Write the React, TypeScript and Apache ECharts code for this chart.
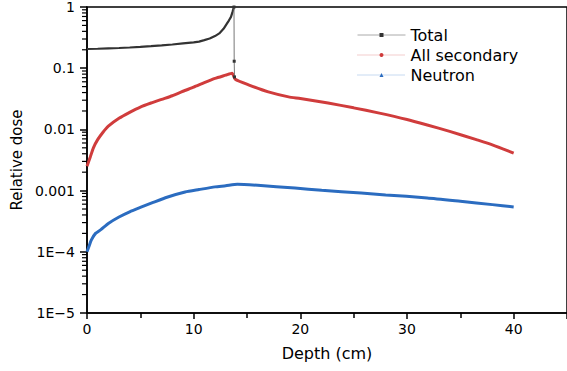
import React, { useEffect, useRef } from "react";
import * as echarts from "echarts";

// Total dose (before the Bragg peak)
const totalDepth = [0, 1, 2, 3, 4, 5, 6, 7, 8, 9, 10, 10.5, 11, 11.5, 12, 12.4, 12.8, 13.1, 13.3, 13.5, 13.65, 13.78];
const totalDose = [0.206, 0.208, 0.211, 0.214, 0.218, 0.223, 0.229, 0.236, 0.244, 0.254, 0.264, 0.272, 0.287, 0.305, 0.335, 0.37, 0.44, 0.53, 0.6, 0.69, 0.84, 1.0];
// Total dose, fall-off after the peak
const peakDepth = [13.78, 13.8, 13.83];
const peakDose = [1.0, 0.13, 0.072];
// All secondary
const secDepth = [0, 0.3, 0.6, 1, 1.5, 2, 3, 4, 5, 6, 7, 8, 9, 10, 11, 12, 13, 13.6, 13.9, 15.2, 17, 18.9, 20, 22.6, 25, 27.3, 30, 31.9, 34, 36.5, 38, 40];
const secDose = [0.0025, 0.0035, 0.005, 0.0068, 0.009, 0.0113, 0.0152, 0.019, 0.0232, 0.027, 0.031, 0.0355, 0.042, 0.049, 0.058, 0.068, 0.077, 0.083, 0.066, 0.053, 0.041, 0.034, 0.032, 0.027, 0.0225, 0.0186, 0.0145, 0.0118, 0.0093, 0.0068, 0.0056, 0.0041];
// Neutron
const neuDepth = [0, 0.2, 0.4, 0.8, 1.3, 2, 3, 4, 5, 6.2, 7.5, 9.2, 10.5, 12, 13, 14.1, 16, 19.5, 22, 25.7, 28, 31.9, 35, 38, 40];
const neuDose = [0.0001, 0.000125, 0.000155, 0.0002, 0.00023, 0.00029, 0.00037, 0.00045, 0.00053, 0.00064, 0.00078, 0.00095, 0.00104, 0.00115, 0.0012, 0.00127, 0.00122, 0.0011, 0.00101, 0.00091, 0.00085, 0.00076, 0.00067, 0.00059, 0.00054];

const yTickLabels = ["1E\u22125", "1E\u22124", "0.001", "0.01", "0.1", "1"];
const seriesNames = ["Total", "All secondary", "Neutron"];

const FONT = "DejaVu Sans";

// minor log ticks: 2..9 x 10^e
const minorYTicks: number[] = [];
for (let e = -5; e < 0; e++) {
  for (let m = 2; m <= 9; m++) minorYTicks.push(m * Math.pow(10, e));
}

const pairs = (xs: number[], ys: number[]) => xs.map((x, i) => [x, ys[i]]);

export default function App() {
  const ref = useRef<HTMLDivElement>(null);
  useEffect(() => {
    if (!ref.current) return;
    const chart = echarts.init(ref.current, undefined, { renderer: "svg" });
    chart.setOption({
      animation: false,
      backgroundColor: "#fff",
      grid: {
        left: 87,
        top: 6,
        right: -4,
        bottom: 58,
        show: true,
        borderColor: "#000",
        borderWidth: 1.5,
        backgroundColor: "transparent",
      },
      legend: {
        orient: "vertical",
        left: 352,
        top: 22,
        itemWidth: 48,
        itemHeight: 5,
        itemGap: 4,
        textStyle: { fontFamily: FONT, fontSize: 16, color: "#000" },
        data: [
          { name: seriesNames[0], lineStyle: { color: "#aaaaaa", width: 1, type: "solid" }, itemStyle: { color: "#333" } },
          { name: seriesNames[1], lineStyle: { color: "#e79a9a", width: 1, type: "dotted" }, itemStyle: { color: "#d03c3c" } },
          { name: seriesNames[2], lineStyle: { color: "#8fb4e3", width: 1, type: "dotted" }, itemStyle: { color: "#2b6cc0" } },
        ],
      },
      xAxis: {
        type: "value",
        min: 0,
        max: 45,
        interval: 10,
        name: "Depth (cm)",
        nameLocation: "middle",
        nameGap: 32,
        nameTextStyle: { fontFamily: FONT, fontSize: 16, color: "#000" },
        axisLine: { show: true, onZero: false, lineStyle: { color: "#000", width: 1.5 } },
        axisTick: { show: true, length: 6, lineStyle: { color: "#000", width: 1.5 } },
        minorTick: { show: true, splitNumber: 2, length: 5, lineStyle: { color: "#000", width: 1.5 } },
        splitLine: { show: false },
        minorSplitLine: { show: false },
        axisLabel: {
          margin: 9,
          fontFamily: FONT,
          fontSize: 14,
          color: "#000",
          showMaxLabel: false,
        },
      },
      yAxis: {
        type: "log",
        logBase: 10,
        min: 1e-5,
        max: 1,
        name: "Relative dose",
        nameLocation: "middle",
        nameGap: 60,
        nameTextStyle: { fontFamily: FONT, fontSize: 15, color: "#000" },
        axisLine: { show: true, onZero: false, lineStyle: { color: "#000", width: 1.5 } },
        axisTick: { show: true, length: 7, lineStyle: { color: "#000", width: 1.5 } },
        splitLine: { show: false },
        axisLabel: {
          margin: 12,
          fontFamily: FONT,
          fontSize: 14,
          color: "#000",
          formatter: (v: number) => {
            const idx = Math.round(Math.log10(v)) + 5;
            return yTickLabels[idx] ?? "";
          },
        },
      },
      series: [
        {
          name: seriesNames[0],
          type: "line",
          data: pairs(totalDepth, totalDose),
          symbol: "rect",
          showSymbol: false,
          lineStyle: { color: "#333333", width: 2.2 },
          itemStyle: { color: "#333333" },
          z: 3,
        },
        {
          name: seriesNames[0],
          type: "line",
          data: pairs(peakDepth, peakDose),
          symbol: "rect",
          symbolSize: 3,
          showSymbol: true,
          lineStyle: { color: "#777777", width: 1 },
          itemStyle: { color: "#333333" },
          z: 3,
        },
        {
          name: seriesNames[1],
          type: "line",
          data: pairs(secDepth, secDose),
          symbol: "circle",
          showSymbol: false,
          smooth: 0.2,
          lineStyle: { color: "#d03c3c", width: 3 },
          itemStyle: { color: "#d03c3c" },
          z: 2,
        },
        {
          name: seriesNames[2],
          type: "line",
          data: pairs(neuDepth, neuDose),
          symbol: "triangle",
          showSymbol: false,
          smooth: 0.2,
          lineStyle: { color: "#2b6cc0", width: 3 },
          itemStyle: { color: "#2b6cc0" },
          z: 2,
        },
        {
          type: "custom",
          name: "minorTicks",
          coordinateSystem: "cartesian2d",
          clip: false,
          silent: true,
          data: minorYTicks.map((v) => [0, v]),
          renderItem: (_params: any, api: any) => {
            const p = api.coord([0, api.value(1)]);
            return {
              type: "line",
              shape: { x1: p[0] - 5, y1: p[1], x2: p[0], y2: p[1] },
              style: { stroke: "#000", lineWidth: 1.2 },
            };
          },
          z: 5,
        },
      ],
    });
    return () => chart.dispose();
  }, []);
  return (
    <div
      ref={ref}
      style={{ position: "absolute", left: 0, top: 0, width: 567, height: 371, background: "#fff" }}
    />
  );
}
